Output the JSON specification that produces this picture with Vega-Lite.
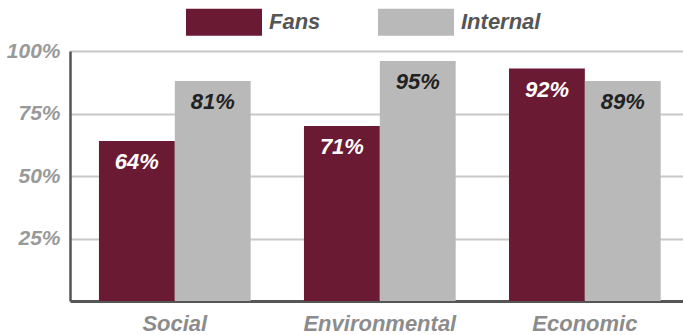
{
  "$schema": "https://vega.github.io/schema/vega-lite/v6.json",
  "width": 613,
  "height": 250,
  "autosize": "none",
  "padding": {"left": 70, "top": 51, "right": 0, "bottom": 34},
  "background": "white",
  "config": {"view": {"stroke": null}, "font": "Liberation Sans"},
  "data": {
    "values": [
      {"category": "Social", "group": "Fans", "value": 64, "label": "64%"},
      {"category": "Social", "group": "Internal", "value": 88, "label": "81%"},
      {"category": "Environmental", "group": "Fans", "value": 70, "label": "71%"},
      {"category": "Environmental", "group": "Internal", "value": 96, "label": "95%"},
      {"category": "Economic", "group": "Fans", "value": 93, "label": "92%"},
      {"category": "Economic", "group": "Internal", "value": 88, "label": "89%"}
    ]
  },
  "encoding": {
    "x": {
      "field": "category",
      "type": "nominal",
      "sort": ["Social", "Environmental", "Economic"],
      "scale": {"paddingInner": 0.26, "paddingOuter": 0.125, "align": 0.565},
      "axis": {
        "title": null,
        "labelAngle": 0,
        "ticks": false,
        "domainColor": "#555555",
        "domainWidth": 3,
        "labelFontSize": 22,
        "labelFontStyle": "italic",
        "labelFontWeight": "bold",
        "labelColor": "#8c8c8c",
        "labelPadding": 12
      }
    },
    "xOffset": {
      "field": "group",
      "type": "nominal",
      "sort": ["Fans", "Internal"],
      "scale": {"paddingInner": 0, "paddingOuter": 0}
    }
  },
  "layer": [
    {
      "mark": {"type": "bar"},
      "encoding": {
        "y": {
          "field": "value",
          "type": "quantitative",
          "scale": {"domain": [0, 100]},
          "axis": {
            "title": null,
            "values": [25, 50, 75, 100],
            "labelExpr": "datum.value + '%'",
            "ticks": false,
            "domainColor": "#555555",
            "domainWidth": 2.5,
            "gridColor": "#c8c8c8",
            "gridWidth": 2,
            "labelFontSize": 21,
            "labelFontStyle": "italic",
            "labelFontWeight": "bold",
            "labelColor": "#999999",
            "labelPadding": 10
          }
        },
        "color": {
          "field": "group",
          "type": "nominal",
          "scale": {"domain": ["Fans", "Internal"], "range": ["#6b1a34", "#b9b9b9"]},
          "legend": {
            "title": null,
            "orient": "none",
            "direction": "horizontal",
            "legendX": 116,
            "legendY": -67,
            "symbolType": "M-1,-0.355H1V0.355H-1Z",
            "symbolSize": 5776,
            "symbolStrokeWidth": 0,
            "symbolOpacity": 1,
            "labelFontSize": 22,
            "labelFontStyle": "italic",
            "labelFontWeight": "bold",
            "labelColor": "#555555",
            "labelOffset": 7,
            "columnPadding": 57
          }
        }
      }
    },
    {
      "mark": {
        "type": "text",
        "dy": 21,
        "baseline": "middle",
        "fontSize": 22,
        "fontStyle": "italic",
        "fontWeight": "bold"
      },
      "encoding": {
        "y": {"field": "value", "type": "quantitative"},
        "text": {"field": "label"},
        "color": {
          "condition": {"test": "datum.group === 'Fans'", "value": "#ffffff"},
          "value": "#222222"
        }
      }
    }
  ]
}
